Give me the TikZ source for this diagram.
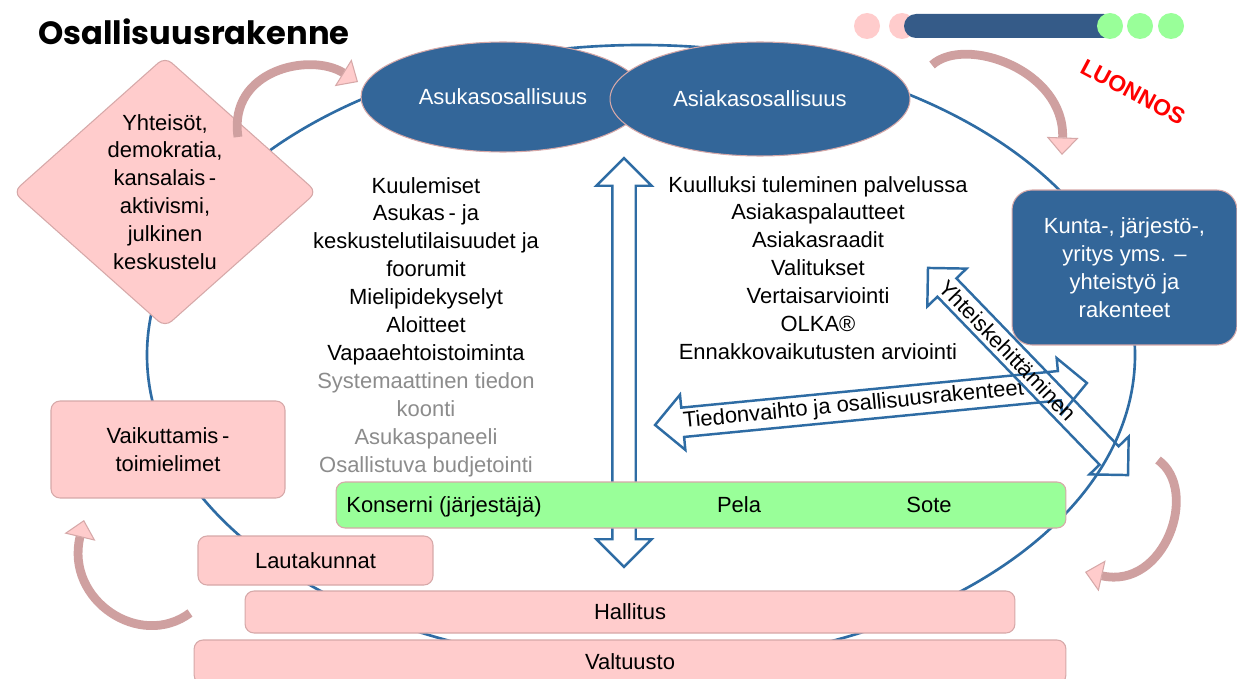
\documentclass[tikz,border=0pt]{standalone}
\usepackage{fontspec}
\setmainfont{Liberation Sans}
\newfontfamily\titlefont{Poppins}
\usetikzlibrary{shapes.geometric,shapes.arrows,arrows.meta,positioning,calc}
\definecolor{ringblue}{RGB}{46,108,164}
\definecolor{deepblue}{RGB}{51,102,153}
\definecolor{barblue}{RGB}{53,91,136}
\definecolor{pinkL}{RGB}{255,204,204}
\definecolor{pinkE}{RGB}{214,168,168}
\definecolor{curveD}{RGB}{207,160,160}
\definecolor{greenL}{RGB}{153,255,153}
\definecolor{txtgrey}{RGB}{140,140,140}
\definecolor{luonred}{RGB}{255,0,0}

\tikzset{
  txt/.style={font=\fontsize{12.5}{15.9}\selectfont, align=center, inner sep=0pt},
  pinkbox/.style={txt, draw=pinkE, fill=pinkL, line width=0.6pt, rounded corners=0.18cm},
  bluebubble/.style={txt, ellipse, draw=pinkE, fill=deepblue, text=white, line width=0.6pt},
  hollow/.style={double arrow, draw=ringblue, line width=1.4pt, inner xsep=0pt},
  curvy/.style={draw=curveD, line width=5pt,
    -{Triangle[width=18pt, length=10pt, fill=pinkL, color=pinkE, line width=0.6pt]}}
}

\begin{document}
\begin{tikzpicture}[x=0.02cm, y=-0.02cm]
  \clip (0,0) rectangle (1237,679);
  \fill[white] (0,0) rectangle (1237,679);

  \draw[ringblue, line width=1.5pt] (641,355) ellipse [x radius=494, y radius=310];

  \fill[pinkL] (867,26) circle [radius=13];
  \fill[pinkL] (902,26) circle [radius=13];
  \fill[barblue, rounded corners=0.24cm] (904,14) rectangle (1116,38);
  \foreach \cx in {1110,1140,1171}
    \fill[greenL] (\cx,26) circle [radius=13];

  \node[anchor=west, inner sep=0pt, font=\titlefont\bfseries\fontsize{18.3}{21}\selectfont] (title) at (38,32) {Osallisuusrakenne};
  \node[rotate=-28, text=luonred, font=\bfseries\fontsize{13}{15}\selectfont] (draft) at (1133,92) {LUONNOS};

  \node[hollow, fill=white, rotate=90, minimum height=8.18cm, inner ysep=0.21cm, double arrow head extend=0.32cm] (updown) at (624,362.5) {};

  \node[pinkbox, diamond, minimum width=6.08cm, minimum height=5.24cm] (yhteisot) at (165,192)
    {Yhteisöt,\\demokratia,\\kansalais\,-\\aktivismi,\\julkinen\\keskustelu};
  \node[pinkbox, minimum width=4.68cm, minimum height=1.94cm] (vaikutus) at (168,449.5) {Vaikuttamis\,-\\toimielimet};
  \node[pinkbox, minimum width=4.7cm, minimum height=0.98cm] (lauta) at (315.5,560.5) {Lautakunnat};
  \node[pinkbox, minimum width=15.4cm, minimum height=0.84cm] (hallitus) at (630,612) {Hallitus};
  \node[pinkbox, minimum width=17.44cm, minimum height=0.88cm] (valtuusto) at (630,662) {Valtuusto};

  \node[txt, draw=pinkE, fill=greenL, line width=0.6pt, rounded corners=0.18cm, minimum width=14.6cm, minimum height=0.92cm] (konserni) at (701,505) {};
  \node[txt, anchor=base west] (jarjestaja) at (346,512) {Konserni (järjestäjä)};
  \node[txt, anchor=base] (pela) at (739,512) {Pela};
  \node[txt, anchor=base] (sote) at (929,512) {Sote};

  \node[bluebubble, minimum width=5.68cm, minimum height=2.2cm] (asukas) at (503,97) {Asukasosallisuus};
  \node[bluebubble, minimum width=6.0cm, minimum height=2.28cm] (asiakas) at (760,99) {Asiakasosallisuus};

  \node[txt, draw=pinkE, fill=deepblue, text=white, line width=0.6pt, rounded corners=0.4cm, minimum width=4.5cm, minimum height=3.1cm] (kunta) at (1124.5,267.5)
    {Kunta-, järjestö-,\\yritys yms. –\\yhteistyö ja\\rakenteet};

  \node[txt] (asukaslista) at (426,327)
    {Kuulemiset\\Asukas\,- ja\\keskustelutilaisuudet ja\\foorumit\\Mielipidekyselyt\\Aloitteet\\Vapaaehtoistoiminta\\
     \textcolor{txtgrey}{Systemaattinen tiedon}\\\textcolor{txtgrey}{koonti}\\
     \textcolor{txtgrey}{Asukaspaneeli}\\\textcolor{txtgrey}{Osallistuva budjetointi}};
  \node[txt] (asiakaslista) at (818,268)
    {Kuulluksi tuleminen palvelussa\\Asiakaspalautteet\\Asiakasraadit\\Valitukset\\Vertaisarviointi\\OLKA®\\Ennakkovaikutusten arviointi};

  \node[hollow, rotate=5.55, minimum height=8.68cm, inner ysep=0.27cm, double arrow head extend=0.26cm] (tieto) at (871,404) {};
  \node[txt, rotate=5.55] (tietoteksti) at ($(tieto.west)!0.46!(tieto.east)$) {Tiedonvaihto ja osallisuusrakenteet};
  \node[hollow, rotate=-46, minimum height=5.76cm, inner ysep=0.24cm, double arrow head extend=0.28cm] (yhteis) at (1028,371.5) {};
  \node[txt, rotate=-46] (yhteisteksti) at ($(yhteis.west)!0.4!(yhteis.east)$) {Yhteiskehittäminen};

  \coordinate (k1a) at (238,137);  \coordinate (k1b) at (358,82);
  \coordinate (k2a) at (932,65);   \coordinate (k2b) at (1062,155);
  \coordinate (k3a) at (1158,460); \coordinate (k3b) at (1085,572);
  \coordinate (k4a) at (190,613);  \coordinate (k4b) at (84,520);
  \draw[curvy] (k1a) .. controls (228,70) and (310,52) .. (k1b);
  \draw[curvy] (k2a) .. controls (965,35) and (1065,70) .. (k2b);
  \draw[curvy] (k3a) .. controls (1200,490) and (1165,590) .. (k3b);
  \draw[curvy] (k4a) .. controls (140,650) and (65,600) .. (k4b);
\end{tikzpicture}
\end{document}
